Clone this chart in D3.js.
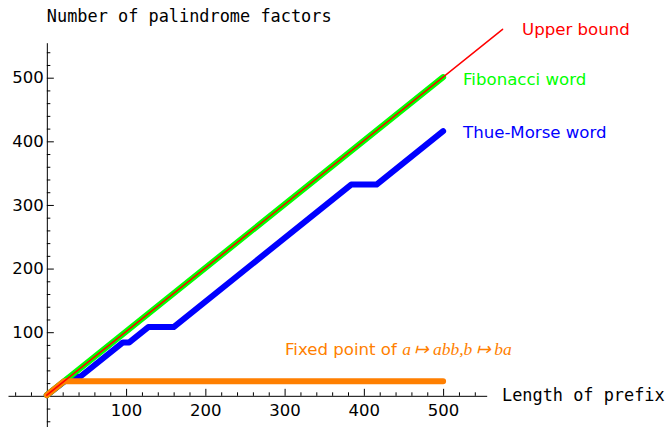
<!DOCTYPE html>
<html lang="en">
<head>
<meta charset="UTF-8">
<title>Number of palindrome factors</title>
<style>
    body { margin: 0; background: #ffffff; }
    svg { display: block; }
    .tick text { font-family: "DejaVu Sans", sans-serif; font-size: 16.5px; fill: #000; }
    .axis path, .axis line { stroke: #000; stroke-width: 1; }
    .axis-label { font-family: "DejaVu Sans Mono", monospace; font-size: 16.9px; fill: #000; }
    .legend { font-family: "DejaVu Sans", sans-serif; font-size: 16.6px; }
</style>
</head>
<body>
<div id="chart"></div>
<script src="https://cdnjs.cloudflare.com/ajax/libs/d3/7.8.5/d3.min.js"></script>
<script>
    const width = 667;
    const height = 427;

    // series, as [prefix length, palindrome count]
    const upperBound = [[0, 1], [575, 576]];
    const fibonacci = [[0, 1], [500, 501]];
    const thueMorse = [[0, 1], [30, 30], [42, 30], [96, 84], [104, 84], [128, 108],
                       [160, 108], [384, 332], [416, 332], [500, 416]];
    const fixedPoint = [[0, 1], [22, 23], [500, 23]];

    // ticks
    const majorTicks = [100, 200, 300, 400, 500];
    const minorTicks = [-40, -20, 20, 40, 60, 80, 120, 140, 160, 180, 220, 240, 260, 280,
                        320, 340, 360, 380, 420, 440, 460, 480, 520, 540];

    const xDomain = [-49, 555];
    const yDomain = [-49, 555];

    const svg = d3.select("#chart").append("svg")
        .attr("width", width)
        .attr("height", height);

    const x = d3.scaleLinear().domain(xDomain).range([8, 486.7]);
    const y = d3.scaleLinear().domain(yDomain).range([427, 42.7]);

    // axes cross at the origin
    const xAxisG = svg.append("g").attr("class", "axis")
        .attr("transform", `translate(0,${y(0)})`);
    xAxisG.append("g")
        .call(d3.axisBottom(x).tickValues(majorTicks).tickSizeInner(-7).tickSizeOuter(0).tickPadding(8));
    xAxisG.append("g")
        .call(d3.axisBottom(x).tickValues(minorTicks).tickSizeInner(-3.5).tickSizeOuter(0).tickFormat(""))
        .select(".domain").remove();

    const yAxisG = svg.append("g").attr("class", "axis")
        .attr("transform", `translate(${x(0)},0)`);
    yAxisG.append("g")
        .call(d3.axisLeft(y).tickValues(majorTicks).tickSizeInner(-7).tickSizeOuter(0).tickPadding(3));
    yAxisG.append("g")
        .call(d3.axisLeft(y).tickValues(minorTicks).tickSizeInner(-3.5).tickSizeOuter(0).tickFormat(""))
        .select(".domain").remove();

    svg.append("text").attr("class", "axis-label")
        .attr("x", x(0)).attr("y", 22)
        .text("Number of palindrome factors");
    svg.append("text").attr("class", "axis-label")
        .attr("x", 502).attr("y", y(0) + 5)
        .text("Length of prefix");

    const line = d3.line().x(d => x(d[0])).y(d => y(d[1]));

    const series = [
        {data: thueMorse, color: "#0000ff", w: 6},
        {data: fibonacci, color: "#00ff00", w: 6},
        {data: fixedPoint, color: "#ff7f00", w: 6},
        {data: upperBound, color: "#ff0000", w: 1.5}
    ];

    svg.append("g").selectAll("path")
        .data(series)
        .enter().append("path")
        .attr("d", d => line(d.data))
        .attr("fill", "none")
        .attr("stroke", d => d.color)
        .attr("stroke-width", d => d.w)
        .attr("stroke-linecap", "round")
        .attr("stroke-linejoin", "round");

    // legend labels
    svg.append("text").attr("class", "legend")
        .attr("x", 522).attr("y", 35).attr("fill", "#ff0000")
        .text("Upper bound");
    svg.append("text").attr("class", "legend")
        .attr("x", 463).attr("y", 85).attr("fill", "#00ff00")
        .text("Fibonacci word");
    svg.append("text").attr("class", "legend")
        .attr("x", 463).attr("y", 138).attr("fill", "#0000ff")
        .text("Thue-Morse word");

    const fp = svg.append("text").attr("class", "legend")
        .attr("x", 285).attr("y", 355).attr("fill", "#ff7f00");
    fp.append("tspan").text("Fixed point of ");
    fp.append("tspan")
        .style("font-family", "'Liberation Serif', serif")
        .style("font-style", "italic")
        .style("font-size", "17.5px")
        .text("a\u2009\u21A6\u2009abb,b\u2009\u21A6\u2009ba");
</script>
</body>
</html>
